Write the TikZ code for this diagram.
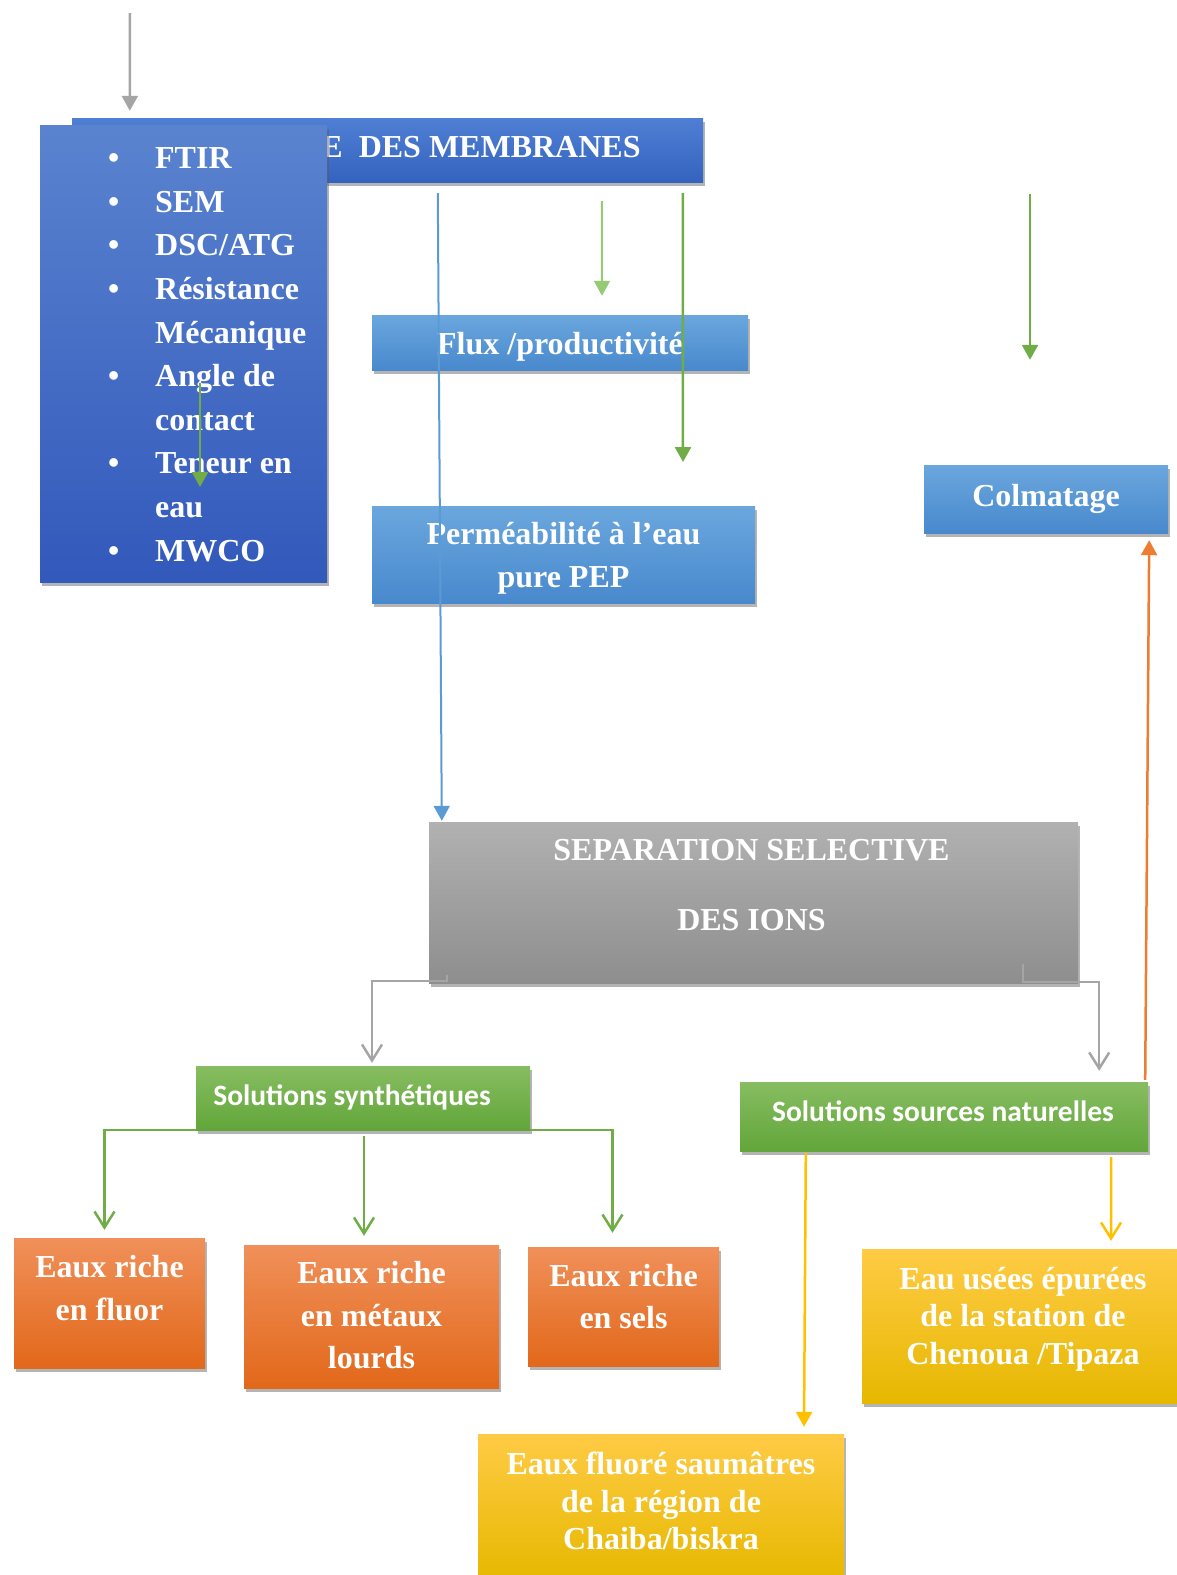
\documentclass[tikz,border=0pt]{standalone}
\usepackage{fontspec}
\setmainfont{Liberation Serif}
\newfontfamily\calib{Carlito}
\usetikzlibrary{arrows.meta,shadows,calc}
\definecolor{dblueT}{HTML}{5A83CF}
\definecolor{dblueB}{HTML}{3259BB}
\definecolor{hblueT}{HTML}{4F7FD4}
\definecolor{hblueB}{HTML}{3463BF}
\definecolor{lblueT}{HTML}{6BA7DE}
\definecolor{lblueB}{HTML}{4889CD}
\definecolor{grayT}{HTML}{B1B1B1}
\definecolor{grayB}{HTML}{8E8E8E}
\definecolor{greenT}{HTML}{87BD61}
\definecolor{greenB}{HTML}{62A63A}
\definecolor{orangeT}{HTML}{F0905A}
\definecolor{orangeB}{HTML}{E2681A}
\definecolor{yellowT}{HTML}{FFCB45}
\definecolor{yellowB}{HTML}{E6B800}
\definecolor{cgray}{HTML}{A5A5A5}
\definecolor{cblue}{HTML}{5B9BD5}
\definecolor{cgreen}{HTML}{70AD47}
\definecolor{clgreen}{HTML}{96CB75}
\definecolor{corange}{HTML}{ED7D31}
\definecolor{cyellow}{HTML}{FFC000}
\tikzset{
  box/.style={draw=none, inner sep=0pt, drop shadow={shadow xshift=1.5pt, shadow yshift=-4pt, opacity=0.45, fill=black!65}},
  hdrbox/.style={box, top color=hblueT, bottom color=hblueB},
  listbox/.style={box, top color=dblueT, bottom color=dblueB},
  lbluebox/.style={box, top color=lblueT, bottom color=lblueB},
  graybox/.style={box, top color=grayT, bottom color=grayB},
  greenbox/.style={box, top color=greenT, bottom color=greenB},
  orangebox/.style={box, top color=orangeT, bottom color=orangeB},
  yellowbox/.style={box, top color=yellowT, bottom color=yellowB},
  txt/.style={text=white, inner sep=0pt, align=center, font=\fontsize{32}{43}\selectfont\bfseries},
  otxt/.style={txt, font=\fontsize{32}{42.5}\selectfont\bfseries},
  ytxt/.style={txt, font=\fontsize{32}{37.5}\selectfont\bfseries},
  septxt/.style={txt, font=\fontsize{32}{70}\selectfont\bfseries},
  sans/.style={text=white, inner sep=0pt, font=\calib\fontsize{29.5}{34}\selectfont\bfseries},
  listtxt/.style={text=white, inner sep=0pt, font=\fontsize{32}{43.6}\selectfont\bfseries},
  arrF/.style={-{Triangle[width=16pt,length=15pt]}, line width=2.5pt},
  arrO/.style={-{Straight Barb[width=20pt,length=16pt]}, line width=2.5pt},
}
\begin{document}
\begin{tikzpicture}[x=1pt,y=1pt]
\useasboundingbox (0,0) rectangle (1176,-1575);

% header and list
\node[hdrbox, minimum width=631pt, minimum height=64pt] (hdr) at (387.5,-150) {};
\node[txt] (hdrt) at (481,-147) {E\ \ DES MEMBRANES};
\node[listbox, minimum width=287pt, minimum height=457pt] (lst) at (183.5,-353.5) {};
\node[listtxt, anchor=north west] (lstt) at (108,-138) {%
\begin{tabular}{@{}p{47pt}@{}l@{}}
\textbullet & FTIR\\
\textbullet & SEM\\
\textbullet & DSC/ATG\\
\textbullet & Résistance\\
 & Mécanique\\
\textbullet & Angle de\\
 & contact\\
\textbullet & Teneur en\\
 & eau\\
\textbullet & MWCO
\end{tabular}};

% light blue boxes
\node[lbluebox, minimum width=376pt, minimum height=55pt] (flux) at (560,-342.5) {};
\node[txt] (fluxt) at ($(flux.center)+(0,-4)$) {Flux /productivité};
\node[lbluebox, minimum width=383pt, minimum height=97pt] (perm) at (563.5,-554.5) {};
\node[txt] (permt) at ($(perm.center)+(0,-4)$) {Perméabilité à l’eau\\pure PEP};
\node[lbluebox, minimum width=244pt, minimum height=68pt, txt] (colm) at (1046,-499) {Colmatage};

% separation
\node[graybox, minimum width=649pt, minimum height=161pt] (sep) at (753.5,-902.5) {};
\node[septxt] (sept) at ($(sep.center)+(-2,17)$) {SEPARATION SELECTIVE\\DES IONS};

% green boxes
\node[greenbox, minimum width=334pt, minimum height=64pt] (synth) at (363,-1098) {};
\node[sans] (syntht) at ($(synth.center)+(-11,1)$) {Solutions synthétiques};
\node[greenbox, minimum width=408pt, minimum height=69pt] (nat) at (944,-1116.5) {};
\node[sans] (natt) at ($(nat.center)+(-1,5)$) {Solutions sources naturelles};

% orange boxes
\node[orangebox, minimum width=191pt, minimum height=130pt] (o1) at (109.5,-1303) {};
\node[otxt] (o1t) at ($(o1.center)+(0,15)$) {Eaux riche\\en fluor};
\node[orangebox, minimum width=255pt, minimum height=143pt] (o2) at (371.5,-1316.5) {};
\node[otxt] (o2t) at ($(o2.center)+(0,1)$) {Eaux riche\\en métaux\\lourds};
\node[orangebox, minimum width=191pt, minimum height=119pt] (o3) at (623.5,-1306.5) {};
\node[otxt] (o3t) at ($(o3.center)+(0,10)$) {Eaux riche\\en sels};

% yellow boxes
\node[yellowbox, minimum width=322pt, minimum height=154pt] (usees) at (1023,-1326) {};
\node[ytxt] (useest) at ($(usees.center)+(0,7)$) {Eau usées épurées\\de la station de\\Chenoua /Tipaza};
\node[yellowbox, minimum width=366pt, minimum height=146pt] (fluore) at (661,-1507) {};
\node[ytxt] (fluoret) at ($(fluore.center)+(0,6)$) {Eaux fluoré saumâtres\\de la région de\\Chaiba/biskra};

% free ends
\coordinate (topstart) at (130,-13);
\coordinate (g1end) at (683,-462);
\coordinate (g2start) at (1030,-194);
\coordinate (g3start) at (200,-383);
\coordinate (g3end) at (200,-487);

% arrows
\draw[arrF, cgray] (topstart) -- ($(hdr.north west)+(58,7)$);
\draw[arrF, cblue, line width=2pt] ($(hdr.south west)+(366,-11)$) -- ($(sep.north west)+(13,1)$);
\draw[arrF, clgreen, line width=2pt] ($(hdr.south west)+(530,-19)$) -- ($(flux.north)+(42,19)$);
\draw[arrF, cgreen] ($(hdr.south west)+(611,-11)$) -- (g1end);
\draw[arrF, cgreen] (g2start) -- ($(colm.north)+(-16,105)$);
\draw[arrF, cgreen] (g3start) -- (g3end);
\draw[arrF, corange] ($(nat.north east)+(-3,2)$) -- ($(colm.south east)+(-19,-7)$);

\draw[arrO, cgray] ($(sep.south west)+(18,8)$) -- ++(0,-6) -| ($(synth.north)+(9,3)$);
\draw[arrO, cgray] ($(sep.south east)+(-55,19)$) |- ++(76,-18) -- ($(nat.north east)+(-49,11)$);

\draw[arrO, cgreen] (synth.south west) -| ($(o1.north)+(-5,8)$);
\draw[arrO, cgreen] ($(synth.south)+(1,-6)$) -- ($(o2.north)+(-7.5,9)$);
\draw[arrO, cgreen] (synth.south east) -| ($(o3.north)+(-11,14)$);

\draw[arrF, cyellow] ($(nat.south west)+(66,-2)$) -- ($(fluore.north)+(143,7)$);
\draw[arrO, cyellow] ($(nat.south east)+(-37,-6)$) -- ($(usees.north)+(88,8)$);
\end{tikzpicture}
\end{document}
